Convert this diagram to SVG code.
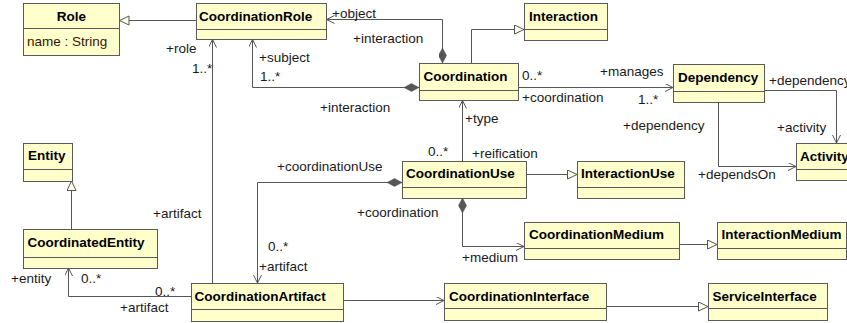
<svg xmlns="http://www.w3.org/2000/svg" width="847" height="323" viewBox="0 0 847 323">
  <defs>
    <style>
      .cls rect { fill: #FFFFCC; stroke: #5a5a5a; stroke-width: 1; }
      .cls line { stroke: #5a5a5a; stroke-width: 1; }
      .name { font-family: "Liberation Sans", Arial, sans-serif; font-size: 13.5px; font-weight: bold; fill: #000; }
      .attr { font-family: "Liberation Sans", Arial, sans-serif; font-size: 13.5px; fill: #3a1400; }
      .lbl { font-family: "Liberation Sans", Arial, sans-serif; font-size: 13.5px; fill: #1a1a1a; }
      .edge { fill: none; stroke: #555; stroke-width: 1; }
      .nav { marker-end: url(#open); }
      .gen { marker-end: url(#tri); }
      .comp { marker-start: url(#diamond); }
    </style>
    <!-- navigable association end -->
    <marker id="open" markerUnits="userSpaceOnUse" markerWidth="10" markerHeight="10" refX="8" refY="4" orient="auto">
      <path d="M0,0 L8,4 L0,8" fill="none" stroke="#555" stroke-width="1"/>
    </marker>
    <!-- generalization head -->
    <marker id="tri" markerUnits="userSpaceOnUse" markerWidth="12" markerHeight="12" refX="10" refY="5" orient="auto">
      <path d="M0.5,0.5 L10,5 L0.5,9.5 Z" fill="#FFFFE6" stroke="#555" stroke-width="1"/>
    </marker>
    <!-- composition end -->
    <marker id="diamond" markerUnits="userSpaceOnUse" markerWidth="16" markerHeight="10" refX="0" refY="4" orient="auto">
      <path d="M0,4 L7.5,0 L15,4 L7.5,8 Z" fill="#555" stroke="#555" stroke-width="0.5"/>
    </marker>
  </defs>

  <rect width="847" height="323" fill="#ffffff"/>

  <!-- connectors -->
  <g id="connectors">
    <path class="edge gen" d="M196,20.5 L119.5,20.5"/>
    <path class="edge comp nav" d="M442.5,63 L442.5,19.5 L326.5,19.5"/>
    <path class="edge comp nav" d="M419,87.5 L252.5,87.5 L252.5,39.5"/>
    <path class="edge nav" d="M212.5,283 L212.5,39.5"/>
    <path class="edge gen" d="M471.5,63 L471.5,29.5 L524,29.5"/>
    <path class="edge nav" d="M518,87.5 L673,87.5"/>
    <path class="edge nav" d="M764,90.5 L836.5,90.5 L836.5,143"/>
    <path class="edge nav" d="M718.5,102 L718.5,166.5 L796,166.5"/>
    <path class="edge nav" d="M462.5,161 L462.5,100.5"/>
    <path class="edge gen" d="M526,174.5 L577,174.5"/>
    <path class="edge comp nav" d="M402,182.5 L257.5,182.5 L257.5,283"/>
    <path class="edge comp nav" d="M462.5,198 L462.5,246.5 L524,246.5"/>
    <path class="edge gen" d="M679,244.5 L717,244.5"/>
    <path class="edge nav" d="M343,300.5 L444,300.5"/>
    <path class="edge gen" d="M606,306.5 L708,306.5"/>
    <path class="edge nav" d="M191,296.5 L68.5,296.5 L68.5,268"/>
    <path class="edge gen" d="M71.5,229 L71.5,181"/>

    <!-- association end labels -->
    <text class="lbl" x="332" y="18">+object</text>
    <text class="lbl" x="353" y="43">+interaction</text>
    <text class="lbl" x="166" y="53">+role</text>
    <text class="lbl" x="192" y="73">1..*</text>
    <text class="lbl" x="259" y="62">+subject</text>
    <text class="lbl" x="260" y="81">1..*</text>
    <text class="lbl" x="320" y="112">+interaction</text>
    <text class="lbl" x="522" y="80">0..*</text>
    <text class="lbl" x="522" y="102">+coordination</text>
    <text class="lbl" x="600" y="76">+manages</text>
    <text class="lbl" x="638" y="104">1..*</text>
    <text class="lbl" x="769" y="85">+dependency</text>
    <text class="lbl" x="623" y="130">+dependency</text>
    <text class="lbl" x="777" y="132">+activity</text>
    <text class="lbl" x="698" y="179">+dependsOn</text>
    <text class="lbl" x="465" y="123">+type</text>
    <text class="lbl" x="428" y="156">0..*</text>
    <text class="lbl" x="472" y="158">+reification</text>
    <text class="lbl" x="277" y="171">+coordinationUse</text>
    <text class="lbl" x="357" y="217">+coordination</text>
    <text class="lbl" x="268" y="251">0..*</text>
    <text class="lbl" x="259" y="271">+artifact</text>
    <text class="lbl" x="462" y="262">+medium</text>
    <text class="lbl" x="153" y="218">+artifact</text>
    <text class="lbl" x="11" y="283">+entity</text>
    <text class="lbl" x="81" y="283">0..*</text>
    <text class="lbl" x="155" y="296">0..*</text>
    <text class="lbl" x="120" y="312">+artifact</text>
  </g>

  <!-- classes -->
  <g id="Role" class="cls">
    <rect x="23.5" y="3.5" width="96" height="52"/>
    <line x1="23.5" y1="28.5" x2="119.5" y2="28.5"/>
    <text class="name" x="71.5" y="20.5" text-anchor="middle">Role</text>
    <text class="attr" x="27" y="46">name : String</text>
  </g>
  <g id="CoordinationRole" class="cls">
    <rect x="196.5" y="3.5" width="130" height="36"/>
    <line x1="196.5" y1="29.5" x2="326.5" y2="29.5"/>
    <text class="name" x="199" y="20.5">CoordinationRole</text>
  </g>
  <g id="Interaction" class="cls">
    <rect x="524.5" y="3.5" width="83" height="37"/>
    <line x1="524.5" y1="29.5" x2="607.5" y2="29.5"/>
    <text class="name" x="529" y="20.5">Interaction</text>
  </g>
  <g id="Coordination" class="cls">
    <rect x="419.5" y="63.5" width="99" height="37"/>
    <line x1="419.5" y1="90.5" x2="518.5" y2="90.5"/>
    <text class="name" x="423.5" y="80.5">Coordination</text>
  </g>
  <g id="Dependency" class="cls">
    <rect x="673.5" y="64.5" width="91" height="38"/>
    <line x1="673.5" y1="91.5" x2="764.5" y2="91.5"/>
    <text class="name" x="678" y="81.5">Dependency</text>
  </g>
  <g id="Activity" class="cls">
    <rect x="796.5" y="143.5" width="70" height="37"/>
    <line x1="796.5" y1="169.5" x2="866.5" y2="169.5"/>
    <text class="name" x="800" y="160.5">Activity</text>
  </g>
  <g id="CoordinationUse" class="cls">
    <rect x="402.5" y="161.5" width="124" height="37"/>
    <line x1="402.5" y1="187.5" x2="526.5" y2="187.5"/>
    <text class="name" x="406" y="178">CoordinationUse</text>
  </g>
  <g id="InteractionUse" class="cls">
    <rect x="577.5" y="161.5" width="107" height="37"/>
    <line x1="577.5" y1="187.5" x2="684.5" y2="187.5"/>
    <text class="name" x="581" y="178">InteractionUse</text>
  </g>
  <g id="Entity" class="cls">
    <rect x="23.5" y="143.5" width="49" height="38"/>
    <line x1="23.5" y1="169.5" x2="72.5" y2="169.5"/>
    <text class="name" x="28" y="160">Entity</text>
  </g>
  <g id="CoordinatedEntity" class="cls">
    <rect x="23.5" y="229.5" width="134" height="39"/>
    <line x1="23.5" y1="257.5" x2="157.5" y2="257.5"/>
    <text class="name" x="27.5" y="246.5">CoordinatedEntity</text>
  </g>
  <g id="CoordinationMedium" class="cls">
    <rect x="524.5" y="222.5" width="155" height="37"/>
    <line x1="524.5" y1="248.5" x2="679.5" y2="248.5"/>
    <text class="name" x="529" y="239">CoordinationMedium</text>
  </g>
  <g id="InteractionMedium" class="cls">
    <rect x="717.5" y="222.5" width="129" height="37"/>
    <line x1="717.5" y1="248.5" x2="846.5" y2="248.5"/>
    <text class="name" x="721.5" y="239">InteractionMedium</text>
  </g>
  <g id="CoordinationArtifact" class="cls">
    <rect x="191.5" y="283.5" width="152" height="38"/>
    <line x1="191.5" y1="309.5" x2="343.5" y2="309.5"/>
    <text class="name" x="194.5" y="300.5">CoordinationArtifact</text>
  </g>
  <g id="CoordinationInterface" class="cls">
    <rect x="444.5" y="283.5" width="162" height="37"/>
    <line x1="444.5" y1="308.5" x2="606.5" y2="308.5"/>
    <text class="name" x="449" y="300.5">CoordinationInterface</text>
  </g>
  <g id="ServiceInterface" class="cls">
    <rect x="708.5" y="283.5" width="119" height="37"/>
    <line x1="708.5" y1="308.5" x2="827.5" y2="308.5"/>
    <text class="name" x="712.5" y="300.5">ServiceInterface</text>
  </g>
</svg>
